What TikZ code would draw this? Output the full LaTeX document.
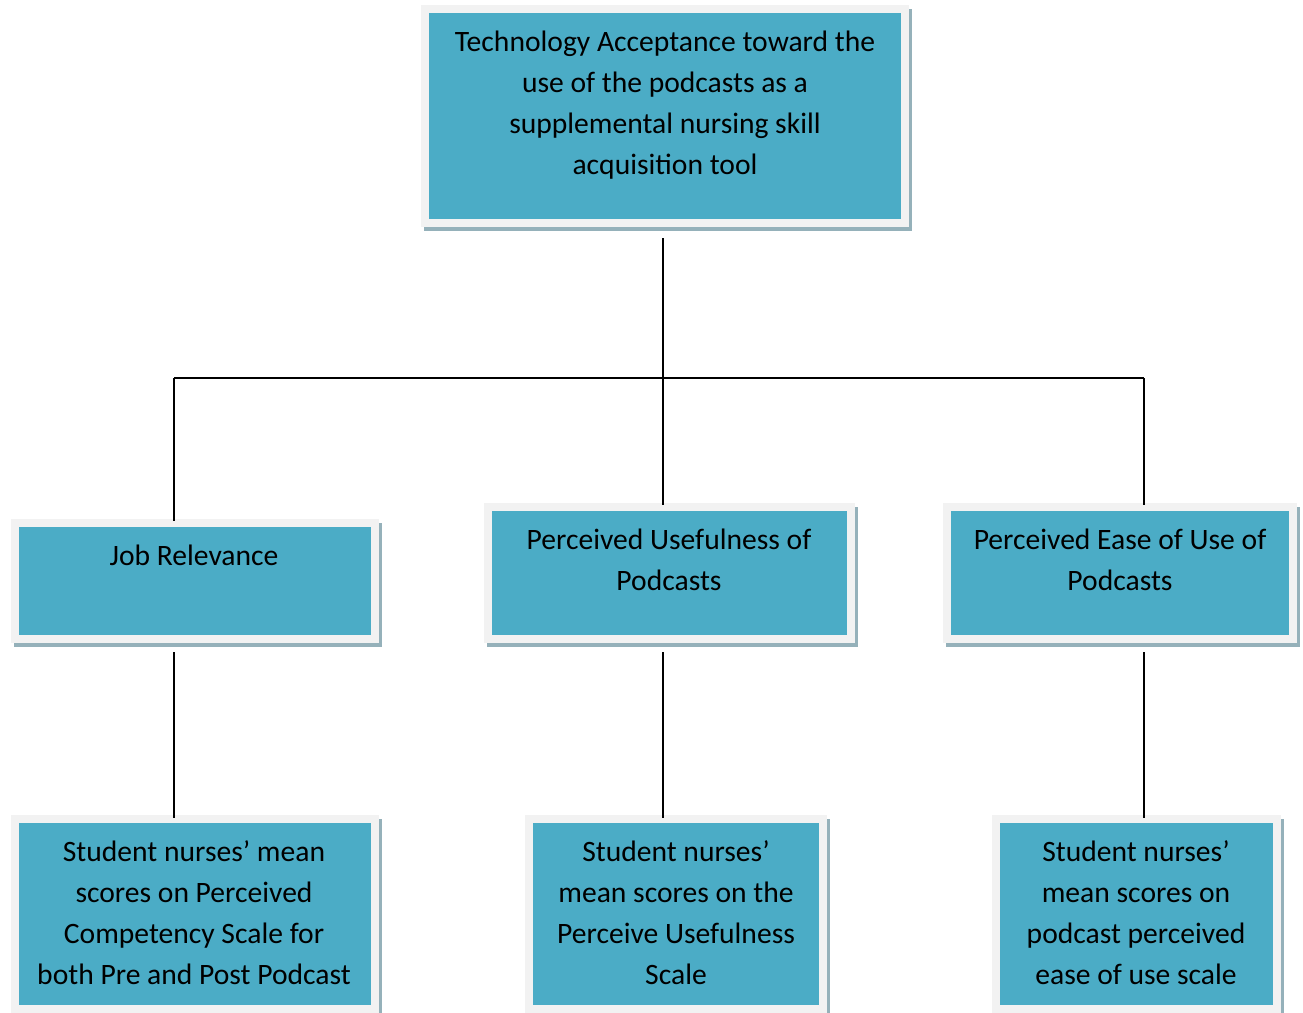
\documentclass[tikz,border=0pt]{standalone}
\usepackage{fontspec}
\setmainfont{Carlito}
\usetikzlibrary{calc,backgrounds}
\definecolor{teal1}{HTML}{4BACC6}
\definecolor{frame1}{HTML}{F2F2F2}
\definecolor{shadow1}{HTML}{95B1BA}
\tikzset{
  box/.style={fill=teal1, draw=frame1, line width=8pt, inner sep=0pt, outer sep=0pt, anchor=north west},
  txt/.style={font=\fontsize{29.6}{41}\selectfont, align=center, inner sep=0pt, anchor=base},
  link/.style={line width=1.6pt, black},
}
\newcommand{\shadowbox}[1]{%
  \fill[shadow1] ($(#1.north west)+(-1pt,0pt)$) rectangle ($(#1.south east)+(7pt,-8pt)$);
}
\begin{document}
\begin{tikzpicture}[x=1pt,y=-1pt]
\useasboundingbox (0,0) rectangle (1303,1012);
\clip (0,0) rectangle (1303,1012);
% boxes (mid-frame coordinates)
\node[box, minimum width=480pt, minimum height=214pt] (top) at (425,9) {};
\node[box, minimum width=360pt, minimum height=116pt] (jr) at (15,523) {};
\node[box, minimum width=363pt, minimum height=132pt] (pu) at (488,507) {};
\node[box, minimum width=346pt, minimum height=132pt] (pe) at (947,507) {};
\node[box, minimum width=360pt, minimum height=190pt] (bl) at (15,819) {};
\node[box, minimum width=294pt, minimum height=190pt] (bm) at (529,819) {};
\node[box, minimum width=281pt, minimum height=190pt] (br) at (996,819) {};
\begin{scope}[on background layer]
\foreach \b in {top,jr,pu,pe,bl,bm,br}{\shadowbox{\b}}
\end{scope}
% texts (anchored at the baseline of the last line)
\node[txt] (ttop) at (665,174) {Technology Acceptance toward the\\use of the podcasts as a\\supplemental nursing skill\\acquisition tool};
\node[txt] (tjr) at (194,565) {Job Relevance};
\node[txt] (tpu) at (669,590) {Perceived Usefulness of\\Podcasts};
\node[txt] (tpe) at (1120,590) {Perceived Ease of Use of\\Podcasts};
\node[txt] (tbl) at (194,984) {Student nurses’ mean\\scores on Perceived\\Competency Scale for\\both Pre and Post Podcast};
\node[txt] (tbm) at (676,984) {Student nurses’\\mean scores on the\\Perceive Usefulness\\Scale};
\node[txt] (tbr) at (1136,984) {Student nurses’\\mean scores on\\podcast perceived\\ease of use scale};
% connectors
\coordinate (hub) at (663,378);
\coordinate (hl) at (174,378);
\coordinate (hr) at (1144,378);
\draw[link] (663,238) -- (hub) -- (663,505);
\draw[link] (hl) -- (hr);
\draw[link] (hl) -- (174,521);
\draw[link] (hr) -- (1144,505);
\draw[link] (174,652) -- (174,818);
\draw[link] (663,652) -- (663,818);
\draw[link] (1144,652) -- (1144,818);
\end{tikzpicture}
\end{document}
